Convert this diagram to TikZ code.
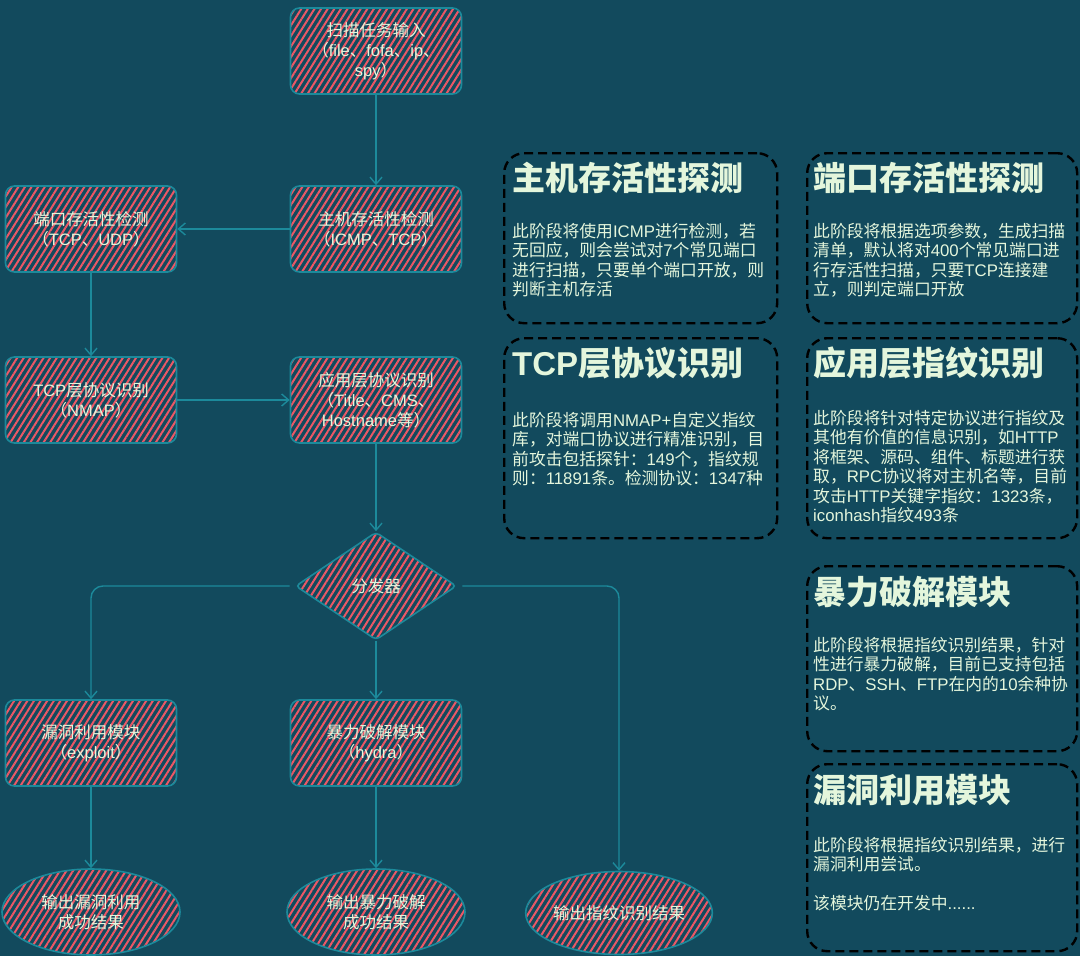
\documentclass[tikz,border=0pt]{standalone}
\usepackage{fontspec}
\setmainfont{Liberation Sans}
\newfontfamily\cjkfont{Noto Sans CJK SC}
\newfontfamily\latfont{Liberation Sans}
\XeTeXinterchartokenstate=1
\newXeTeXintercharclass\CJKcls
\newcount\cjkc
\def\setcjkrange#1#2{\cjkc=#1\relax
  \loop\XeTeXcharclass\cjkc=\CJKcls\relax
  \ifnum\cjkc<#2\advance\cjkc by 1\repeat}
\setcjkrange{"3000}{"303F}
\setcjkrange{"4E00}{"9FFF}
\setcjkrange{"FF00}{"FFEF}
\XeTeXinterchartoks 0 \CJKcls = {\cjkfont}
\XeTeXinterchartoks 4095 \CJKcls = {\cjkfont}
\XeTeXinterchartoks \CJKcls 0 = {\latfont}
\XeTeXinterchartoks 4095 0 = {\latfont}
\usetikzlibrary{shapes.geometric,arrows.meta,patterns.meta,calc}
\definecolor{bg}{HTML}{124A5D}
\definecolor{hatch}{HTML}{EC5866}
\definecolor{edge}{HTML}{1C8A9B}
\definecolor{txt}{HTML}{E4F6DC}
\tikzset{
  hatched/.style={draw=edge, line width=1.6pt,
    pattern={Lines[angle=58,distance=5.6pt,line width=2pt]}, pattern color=hatch,
    text=txt, font=\fontsize{16.5}{20}\selectfont, align=center},
  proc/.style={hatched, rounded corners=9pt, minimum width=171pt, minimum height=86pt, inner sep=2pt},
  decide/.style={hatched, diamond, rounded corners=4pt, minimum width=161pt, minimum height=108pt, inner sep=0pt},
  outcome/.style={hatched, ellipse, minimum width=178pt, minimum height=86pt, inner sep=0pt},
  conn/.style={draw=edge, line width=1.4pt, -{Straight Barb[length=7pt,width=12pt]}},
  card/.style={draw=black, line width=2.4pt, dash pattern=on 9pt off 5pt, rounded corners=20pt},
  cardhead/.style={anchor=west, inner sep=0pt, text=txt, font=\bfseries\fontsize{33}{36}\selectfont},
  cardbody/.style={anchor=north west, inner sep=0pt, text=txt, align=left, font=\fontsize{16.8}{19.5}\selectfont}
}
\begin{document}
\begin{tikzpicture}[x=1pt,y=-1pt]
\fill[bg] (0,0) rectangle (1080,956);
\useasboundingbox (0,0) rectangle (1080,956);

% flow nodes
\node[proc] (in) at (376,51) {扫描任务输入\\（file、fofa、ip、\\spy）};
\node[proc] (host) at (376,229) {主机存活性检测\\（ICMP、TCP）};
\node[proc] (port) at (91,229) {端口存活性检测\\（TCP、UDP）};
\node[proc] (tcp) at (91,400) {TCP层协议识别\\（NMAP）};
\node[proc] (app) at (376,400) {应用层协议识别\\（Title、CMS、\\Hostname等）};
\node[decide] (dist) at (376,586) {分发器};
\node[proc] (vuln) at (91,743) {漏洞利用模块\\（exploit）};
\node[proc] (brute) at (376,743) {暴力破解模块\\（hydra）};
\node[outcome] (vout) at (91,912) {输出漏洞利用\\成功结果};
\node[outcome] (bout) at (376,912) {输出暴力破解\\成功结果};
\node[outcome, minimum width=181pt, minimum height=83pt] (fout) at (619,913) {输出指纹识别结果};

% connectors
\draw[conn] (in) -- (host);
\draw[conn] (host) -- (port);
\draw[conn] (port) -- (tcp);
\draw[conn] (tcp) -- (app);
\draw[conn] (app) -- (dist);
\draw[conn, shorten <=5pt, rounded corners=12pt] (dist.west) -| (vuln.north);
\draw[conn] (dist) -- (brute);
\draw[conn, shorten <=5pt, rounded corners=12pt] (dist.east) -| (fout.north);
\draw[conn] (vuln) -- (vout);
\draw[conn] (brute) -- (bout);

% cards
\node[card, minimum width=273pt, minimum height=170pt, anchor=north west] (c1) at (503,152) {};
\node[cardhead] (c1h) at ($(c1.north west)+(9,26)$) {主机存活性探测};
\node[cardbody] (c1b) at ($(c1.north west)+(9,71)$) {此阶段将使用ICMP进行检测，若\\无回应，则会尝试对7个常见端口\\进行扫描，只要单个端口开放，则\\判断主机存活};

\node[card, minimum width=270pt, minimum height=170pt, anchor=north west] (c2) at (806,152) {};
\node[cardhead] (c2h) at ($(c2.north west)+(7,26)$) {端口存活性探测};
\node[cardbody] (c2b) at ($(c2.north west)+(7,71)$) {此阶段将根据选项参数，生成扫描\\清单，默认将对400个常见端口进\\行存活性扫描，只要TCP连接建\\立，则判定端口开放};

\node[card, minimum width=273pt, minimum height=200pt, anchor=north west] (c3) at (503,337) {};
\node[cardhead] (c3h) at ($(c3.north west)+(9,26)$) {TCP层协议识别};
\node[cardbody] (c3b) at ($(c3.north west)+(9,75)$) {此阶段将调用NMAP+自定义指纹\\库，对端口协议进行精准识别，目\\前攻击包括探针：149个，指纹规\\则：11891条。检测协议：1347种};

\node[card, minimum width=270pt, minimum height=200pt, anchor=north west] (c4) at (806,337) {};
\node[cardhead] (c4h) at ($(c4.north west)+(7,26)$) {应用层指纹识别};
\node[cardbody] (c4b) at ($(c4.north west)+(7,73)$) {此阶段将针对特定协议进行指纹及\\其他有价值的信息识别，如HTTP\\将框架、源码、组件、标题进行获\\取，RPC协议将对主机名等，目前\\攻击HTTP关键字指纹：1323条，\\iconhash指纹493条};

\node[card, minimum width=270pt, minimum height=185pt, anchor=north west] (c5) at (806,565) {};
\node[cardhead] (c5h) at ($(c5.north west)+(7,27)$) {暴力破解模块};
\node[cardbody] (c5b) at ($(c5.north west)+(7,72)$) {此阶段将根据指纹识别结果，针对\\性进行暴力破解，目前已支持包括\\RDP、SSH、FTP在内的10余种协\\议。};

\node[card, minimum width=270pt, minimum height=187pt, anchor=north west] (c6) at (806,763) {};
\node[cardhead] (c6h) at ($(c6.north west)+(7,27)$) {漏洞利用模块};
\node[cardbody] (c6b) at ($(c6.north west)+(7,74)$) {此阶段将根据指纹识别结果，进行\\漏洞利用尝试。\\[19pt]该模块仍在开发中......};
\end{tikzpicture}
\end{document}
